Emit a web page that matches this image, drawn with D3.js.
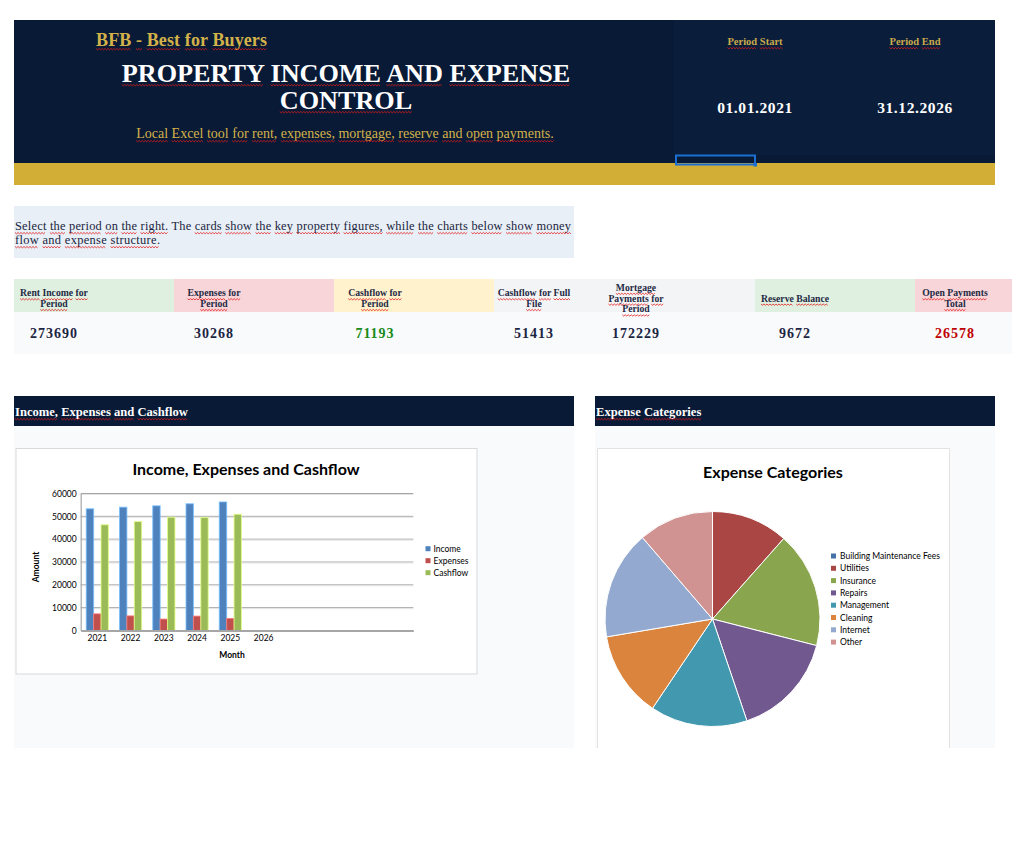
<!DOCTYPE html>
<html><head><meta charset="utf-8">
<script src="https://cdn.jsdelivr.net/npm/d3@7"></script>
<style>body{margin:0;background:#fff} svg{display:block}</style>
</head><body>
<svg id="c" width="1022" height="842"></svg>
<script>
// ---------------- DATA ----------------
const years = ["2021","2022","2023","2024","2025","2026","","","",""];
const seriesNames = ["Income","Expenses","Cashflow"];
const income   = [53300, 54000, 54600, 55500, 56290, 0];
const expenses = [7300, 6400, 5000, 6300, 5268, 0];
const cashflow = [46300, 47700, 49600, 49500, 50900, 0];
const yTicks = [0, 10000, 20000, 30000, 40000, 50000, 60000];

const expenseCats = ["Building Maintenance Fees","Utilities","Insurance","Repairs","Management","Cleaning","Internet","Other"];
const expenseValues = [0, 3490, 5280, 4790, 4420, 3910, 4950, 3420];

const cardLabels = [["Rent Income for","Period"],["Expenses for","Period"],["Cashflow for","Period"],
  ["Cashflow for Full","File"],["Mortgage","Payments for","Period"],["Reserve Balance"],["Open Payments","Total"]];
const cardValues = [273690, 30268, 71193, 51413, 172229, 9672, 26578];
const periodLabels = ["Period Start","Period End"];
const periodDates = ["01.01.2021","31.12.2026"];

// ---------------- STYLE ----------------
const SERIF = "'Liberation Serif','DejaVu Serif',serif";
const SANS = "Lato,'Open Sans',sans-serif";
const NAVY = "#081a36", NAVY2 = "#0a1e3c", GOLD = "#d3ae37";
const barColors = ["#4f81bd","#c0504d","#9bbb59"];
const pieColors = ["#4572a7","#aa4643","#89a54e","#71588f","#4198af","#db843d","#93a9cf","#d19392"];

const svg = d3.select("#c");
svg.append("rect").attr("width",1022).attr("height",842).attr("fill","#fff");

function squiggle(t, skip) {
  skip = skip || [];
  const node = t.node();
  const str = node.textContent;
  const y0 = +t.attr("y") + 2.5;
  const re = /\S+/g; let m;
  const g = d3.select(node.parentNode);
  while ((m = re.exec(str)) !== null) {
    if (skip.includes(m[0])) continue;
    const sx = node.getStartPositionOfChar(m.index).x;
    const ex = node.getEndPositionOfChar(m.index + m[0].length - 1).x;
    let d = `M${sx},${y0}`; let k = 0;
    for (let x = sx + 1.5; x <= ex + 0.01; x += 1.5) { k++; d += `L${x},${y0 + (k % 2 ? 1.3 : 0)}`; }
    g.append("path").attr("d", d).attr("fill","none").attr("stroke","#e21b1b").attr("stroke-width",0.8);
  }
}
function txt(g, x, y, s, o) {
  const t = g.append("text").attr("x",x).attr("y",y).text(s)
    .attr("font-family", o.family || SERIF).attr("font-size", o.size)
    .attr("font-weight", o.weight || "normal").attr("fill", o.fill || "#000")
    .attr("text-anchor", o.anchor || "start");
  if (o.ls) t.attr("letter-spacing", o.ls);
  if (o.len) t.attr("textLength", o.len).attr("lengthAdjust","spacing");
  if (o.wave) squiggle(t, o.skip);
  return t;
}

// ---------------- HEADER ----------------
const hdr = svg.append("g");
hdr.append("rect").attr("x",14).attr("y",20).attr("width",660).attr("height",144).attr("fill",NAVY);
hdr.append("rect").attr("x",674).attr("y",20).attr("width",321).attr("height",144).attr("fill",NAVY2);
hdr.append("rect").attr("x",674).attr("y",155).attr("width",321).attr("height",9).attr("fill","#081a36");
hdr.append("rect").attr("x",14).attr("y",163).attr("width",981).attr("height",22).attr("fill",GOLD);
txt(hdr, 96, 46, "BFB - Best for Buyers", {size:18, weight:"bold", fill:"#d4b24a", wave:true, len:171});
txt(hdr, 346, 82, "PROPERTY INCOME AND EXPENSE", {size:26.2, weight:"bold", fill:"#fff", anchor:"middle", wave:true});
txt(hdr, 346, 109, "CONTROL", {size:26.2, weight:"bold", fill:"#fff", anchor:"middle", wave:true});
txt(hdr, 345, 138, "Local Excel tool for rent, expenses, mortgage, reserve and open payments.", {size:14, fill:"#d4b24a", anchor:"middle", wave:true});
const pcx = [755, 915];
periodLabels.forEach((p,i) => txt(hdr, pcx[i], 45, p, {size:10.5, weight:"bold", fill:"#c9a94b", anchor:"middle", wave:true}));
periodDates.forEach((p,i) => txt(hdr, pcx[i], 113, p, {size:15.5, weight:"bold", fill:"#fff", anchor:"middle", ls:0.6}));
// cell selection marker
hdr.append("rect").attr("x",676).attr("y",155.5).attr("width",79).attr("height",9).attr("fill","none").attr("stroke","#1a6fd0").attr("stroke-width",2);
hdr.append("rect").attr("x",753.5).attr("y",163).attr("width",3.5).attr("height",3.5).attr("fill","#1a6fd0");

// ---------------- DESCRIPTION ----------------
const desc = svg.append("g");
desc.append("rect").attr("x",14).attr("y",206).attr("width",560).attr("height",52).attr("fill","#e8eff6");
txt(desc, 15, 230, "Select the period on the right. The cards show the key property figures, while the charts below show money", {size:12.4, fill:"#1a2440", wave:true, skip:["The"], len:556});
txt(desc, 15, 244, "flow and expense structure.", {size:12.4, fill:"#1a2440", wave:true, len:145});

// ---------------- CARDS ----------------
const cards = svg.append("g");
const cardBg = [[14,174,"#dff0e0"],[174,334,"#f7d5d8"],[334,494,"#fff2cc"],[494,755,"#f3f4f6"],[755,915,"#dff0e0"],[915,1012,"#f7d5d8"]];
cards.append("rect").attr("x",14).attr("y",312).attr("width",998).attr("height",42).attr("fill","#f8fafc");
cards.selectAll("rect.bg").data(cardBg).join("rect").attr("class","bg")
  .attr("x",d=>d[0]).attr("y",279).attr("width",d=>d[1]-d[0]).attr("height",33).attr("fill",d=>d[2]);
const cardCx = [54, 214, 375, 534, 636, 795, 955];
const valColors = ["#1c2541","#1c2541","#178a17","#1c2541","#1c2541","#1c2541","#c00000"];
cardLabels.forEach((lines,i) => {
  const lh = 10.8;
  const y0 = 298.5 - (lines.length-1)*lh/2 + 3;
  lines.forEach((l,j) => txt(cards, cardCx[i], y0 + j*lh, l, {size:9.7, weight:"bold", fill:"#1f2a44", anchor:"middle", wave:true}));
  txt(cards, cardCx[i], 338, String(cardValues[i]), {size:14, weight:"bold", fill:valColors[i], anchor:"middle", ls:1});
});

// ---------------- SECTION HEADERS & PANELS ----------------
const sec = svg.append("g");
[[14,560,"Income, Expenses and Cashflow"],[595,400,"Expense Categories"]].forEach(([x,w,label]) => {
  sec.append("rect").attr("x",x).attr("y",396).attr("width",w).attr("height",30).attr("fill",NAVY);
  sec.append("rect").attr("x",x).attr("y",426).attr("width",w).attr("height",322).attr("fill","#f8fafc");
  txt(sec, x+1, 416, label, {size:12.6, weight:"bold", fill:"#fff", wave:true});
});

// ---------------- BAR CHART ----------------
const bc = svg.append("g");
bc.append("rect").attr("x",16).attr("y",448.5).attr("width",461).attr("height",225.5).attr("fill","#fff").attr("stroke","#d9d9d9");
txt(bc, 246, 475, "Income, Expenses and Cashflow", {family:SANS, size:16, weight:"bold", fill:"#000", anchor:"middle"});
const x = d3.scaleBand().domain(d3.range(years.length)).range([80.7, 413.3]).paddingInner(0).paddingOuter(0);
const bw = x.bandwidth();
const xs = d3.scaleBand().domain(seriesNames).range([bw*0.75/4.5, bw*3.75/4.5]).padding(0);
const y = d3.scaleLinear().domain([0, 60000]).range([630.5, 493.5]);
// gridlines
bc.append("g").selectAll("line").data(yTicks.filter(d=>d>0)).join("line")
  .attr("x1",80.7).attr("x2",413.3).attr("y1",d=>y(d)).attr("y2",d=>y(d)).attr("stroke","#a6a6a6").attr("stroke-width",1);
bc.append("g").selectAll("line").data(yTicks.filter(d=>d>0)).join("line")
  .attr("x1",80.7).attr("x2",413.3).attr("y1",d=>y(d)+1).attr("y2",d=>y(d)+1).attr("stroke","#e3e3e3").attr("stroke-width",1);
// bars
const seriesData = [income, expenses, cashflow];
seriesNames.forEach((s, si) => {
  const c = barColors[si];
  bc.append("g").selectAll("rect").data(seriesData[si]).join("rect")
    .attr("x",(d,i)=>x(i)+xs(s)).attr("width",xs.bandwidth())
    .attr("y",d=>y(d)).attr("height",d=>y(0)-y(d))
    .attr("fill",c).attr("stroke",d3.color(c).brighter(1.1)).attr("stroke-opacity",0.8).attr("stroke-width",1);
});
// axes
const yAxis = d3.axisLeft(y).tickValues(yTicks).tickFormat(d3.format("d")).tickSize(0).tickPadding(4);
const ya = bc.append("g").attr("transform","translate(80.7,0)").call(yAxis);
ya.select(".domain").attr("stroke","#a6a6a6").attr("stroke-width",1.2);
ya.selectAll("text").attr("font-family",SANS).attr("font-size",8.5).attr("fill","#000");
const xAxis = d3.axisBottom(x).tickFormat(i=>years[i]).tickSize(0).tickPadding(4);
const xa = bc.append("g").attr("transform","translate(0,630.5)").call(xAxis);
xa.select(".domain").attr("stroke","#a6a6a6").attr("stroke-width",2);
xa.selectAll("text").attr("font-family",SANS).attr("font-size",8.5).attr("fill","#000");
txt(bc, 232, 658, "Month", {family:SANS, size:8.5, weight:"bold", fill:"#000", anchor:"middle"});
txt(bc, 0, 0, "Amount", {family:SANS, size:8.5, weight:"bold", fill:"#000", anchor:"middle"})
  .attr("transform","translate(38.5,567) rotate(-90)");
// legend
const lg = bc.append("g");
seriesNames.forEach((s,i) => {
  lg.append("rect").attr("x",425.5).attr("y",546.2+i*12).attr("width",5).attr("height",5).attr("fill",barColors[i]);
  txt(lg, 433.5, 551.7+i*12, s, {family:SANS, size:8.5, fill:"#000"});
});

// ---------------- PIE CHART ----------------
const pc = svg.append("g");
pc.append("rect").attr("x",597).attr("y",448.5).attr("width",352).attr("height",300).attr("fill","#fff");
pc.append("path").attr("d","M597.5,748V448.5H949.5V748").attr("fill","none").attr("stroke","#e3e3e3");
txt(pc, 773, 478, "Expense Categories", {family:SANS, size:16, weight:"bold", fill:"#000", anchor:"middle"});
const pie = d3.pie().sort(null).value(d=>d)(expenseValues);
const arc = d3.arc().innerRadius(0).outerRadius(107.5);
pc.append("g").attr("transform","translate(712.5,619)").selectAll("path").data(pie).join("path")
  .attr("d",arc).attr("fill",(d,i)=>pieColors[i]).attr("stroke","#fff").attr("stroke-width",1);
const pl = pc.append("g");
expenseCats.forEach((c,i) => {
  pl.append("rect").attr("x",831).attr("y",553.5+i*12.3).attr("width",5).attr("height",5).attr("fill",pieColors[i]);
  txt(pl, 840, 559+i*12.3, c, {family:SANS, size:8.5, fill:"#000"});
});
</script>
</body></html>
